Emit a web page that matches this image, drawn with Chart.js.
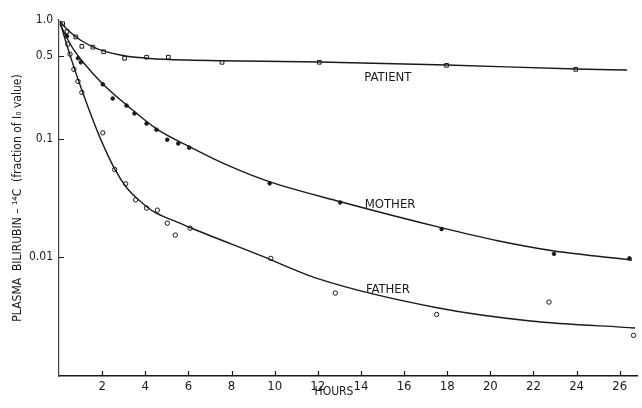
<!DOCTYPE html>
<html>
<head>
<meta charset="utf-8">
<script src="https://cdn.jsdelivr.net/npm/chart.js@4/dist/chart.umd.min.js"></script>
<style>
  html, body { margin: 0; padding: 0; background: #fff; }
  #wrap { width: 642px; height: 408px; }
</style>
</head>
<body>
<div id="wrap"><canvas id="decayChart" width="642" height="408"></canvas></div>
<script>
// measured points (hours, fraction of I0 value)
const patientHours  = [0.17, 0.37, 0.78, 1.06, 1.57, 2.07, 3.04, 4.06, 5.07, 7.56, 12.07, 17.97, 23.96];
const patientValues = [0.93, 0.80, 0.72, 0.60, 0.59, 0.54, 0.476, 0.486, 0.486, 0.44, 0.44, 0.415, 0.384];

const motherHours  = [0.37, 0.88, 1.01, 2.03, 2.49, 3.13, 3.5, 4.06, 4.52, 5.02, 5.53, 6.04, 9.77, 13.04, 17.74, 22.95, 26.45];
const motherValues = [0.73, 0.476, 0.44, 0.287, 0.218, 0.19, 0.163, 0.134, 0.119, 0.098, 0.091, 0.084, 0.042, 0.029, 0.0173, 0.0107, 0.0098];

const fatherHours  = [0.41, 0.51, 0.69, 0.88, 1.06, 2.03, 2.58, 3.09, 3.55, 4.06, 4.56, 5.02, 5.39, 6.08, 9.82, 12.81, 17.51, 22.72, 26.64];
const fatherValues = [0.626, 0.515, 0.384, 0.304, 0.245, 0.112, 0.055, 0.0416, 0.0305, 0.026, 0.025, 0.0194, 0.0154, 0.0176, 0.0098, 0.005, 0.0033, 0.0042, 0.0022];

// fitted curves
const patientCurveHours  = [0.05, 0.23, 0.51, 0.99, 1.59, 2.21, 3.09, 4.2, 5.9, 12.08, 17.99, 23.99, 26.34];
const patientCurveValues = [0.981, 0.89, 0.792, 0.678, 0.592, 0.538, 0.497, 0.474, 0.46, 0.443, 0.418, 0.386, 0.379];

const motherCurveHours  = [0.05, 0.32, 0.69, 1.11, 2.03, 3.18, 4.52, 6.09, 7.89, 9.78, 13.05, 17.76, 20.34, 22.97, 26.57];
const motherCurveValues = [0.925, 0.733, 0.559, 0.443, 0.289, 0.189, 0.121, 0.085, 0.0589, 0.0432, 0.0294, 0.0177, 0.0138, 0.0113, 0.0095];

const fatherCurveHours  = [0.05, 0.32, 0.69, 1.06, 1.52, 1.89, 2.58, 3.14, 3.74, 4.43, 5.35, 6.18, 9.27, 12.04, 17.53, 21.86, 26.71];
const fatherCurveValues = [0.962, 0.653, 0.402, 0.257, 0.152, 0.103, 0.0557, 0.0386, 0.03, 0.024, 0.0203, 0.0175, 0.0105, 0.00658, 0.00376, 0.00291, 0.00254];

// axes
const xTicks = [2, 4, 6, 8, 10, 12, 14, 16, 18, 20, 22, 24, 26];
const yTicks = [0.001, 0.01, 0.1, 0.5, 1];
const yTickLabels = ['', '0.01', '0.1', '0.5', '1.0'];

// curve names written on the plot
const seriesNames = ['PATIENT', 'MOTHER', 'FATHER'];
const nameHours = [15.25, 15.35, 15.25];
const nameValues = [0.329, 0.028, 0.0053];

const FONT = "'Liberation Sans Narrow', 'DejaVu Sans Condensed', sans-serif";
const INK = '#1a1a1a';

const pts = (xs, ys) => xs.map((x, i) => ({ x: x, y: ys[i] }));

const curve = (xs, ys) => ({
    data: pts(xs, ys),
    showLine: true,
    borderColor: INK,
    borderWidth: 1.4,
    pointRadius: 0,
    cubicInterpolationMode: 'monotone',
    fill: false
});

const marks = (xs, ys, style, filled, r) => ({
    data: pts(xs, ys),
    showLine: false,
    pointStyle: style,
    pointRadius: r,
    pointBorderWidth: 1,
    pointBorderColor: INK,
    pointBackgroundColor: filled ? INK : '#fff'
});

// inward tick marks, HOURS title and the curve names
const paperPlugin = {
    id: 'paper',
    afterDraw(chart) {
        const { ctx, scales: { x, y } } = chart;
        ctx.save();
        ctx.strokeStyle = INK;
        ctx.lineWidth = 1.2;
        ctx.beginPath();
        xTicks.forEach(v => {
            const px = Math.round(x.getPixelForValue(v)) + 0.5;
            ctx.moveTo(px, y.bottom);
            ctx.lineTo(px, y.bottom - 5);
        });
        yTicks.slice(1, 4).forEach(v => {
            const py = Math.round(y.getPixelForValue(v)) + 0.5;
            ctx.moveTo(x.left, py);
            ctx.lineTo(x.left + 5, py);
        });
        ctx.stroke();

        ctx.fillStyle = INK;
        ctx.textAlign = 'center';
        ctx.textBaseline = 'middle';
        ctx.font = '12px ' + FONT;
        ctx.fillText('HOURS', x.getPixelForValue(12.75), 392);

        ctx.font = '13px ' + FONT;
        seriesNames.forEach((name, i) => {
            ctx.fillText(name, x.getPixelForValue(nameHours[i]), y.getPixelForValue(nameValues[i]));
        });
        ctx.restore();
    }
};

new Chart(document.getElementById('decayChart'), {
    type: 'scatter',
    data: {
        datasets: [
            curve(patientCurveHours, patientCurveValues),
            curve(motherCurveHours, motherCurveValues),
            curve(fatherCurveHours, fatherCurveValues),
            marks(patientHours, patientValues, 'rect', false, 2.6),
            marks(motherHours, motherValues, 'circle', true, 1.8),
            marks(fatherHours, fatherValues, 'circle', false, 2.2)
        ]
    },
    options: {
        responsive: false,
        animation: false,
        layout: { padding: { top: 20, right: 2, left: 0, bottom: 0 } },
        plugins: {
            legend: { display: false },
            tooltip: { enabled: false }
        },
        scales: {
            x: {
                type: 'linear',
                min: 0,
                max: 26.8,
                afterBuildTicks: axis => { axis.ticks = xTicks.map(v => ({ value: v })); },
                afterFit: axis => { axis.height = 32; },
                grid: { display: false, drawTicks: false },
                border: { display: true, color: INK, width: 1.4 },
                ticks: {
                    color: INK,
                    padding: 3,
                    maxRotation: 0,
                    font: { family: FONT, size: 13 },
                    callback: v => String(v)
                }
            },
            y: {
                type: 'logarithmic',
                min: 0.001,
                max: 1,
                afterBuildTicks: axis => { axis.ticks = yTicks.map(v => ({ value: v })); },
                afterFit: axis => { axis.width = 59; },
                grid: { display: false, drawTicks: false },
                border: { display: true, color: '#444', width: 1.2 },
                ticks: {
                    color: INK,
                    padding: 6,
                    font: { family: FONT, size: 12 },
                    callback: (v) => yTickLabels[yTicks.indexOf(v)]
                },
                title: {
                    display: true,
                    text: 'PLASMA  BILIRUBIN \u2013 \u00b9\u2074C  (fraction of I\u2080 value)',
                    color: INK,
                    padding: { top: 11, bottom: 0 },
                    font: { family: FONT, size: 12 }
                }
            }
        }
    },
    plugins: [paperPlugin]
});
</script>
</body>
</html>
